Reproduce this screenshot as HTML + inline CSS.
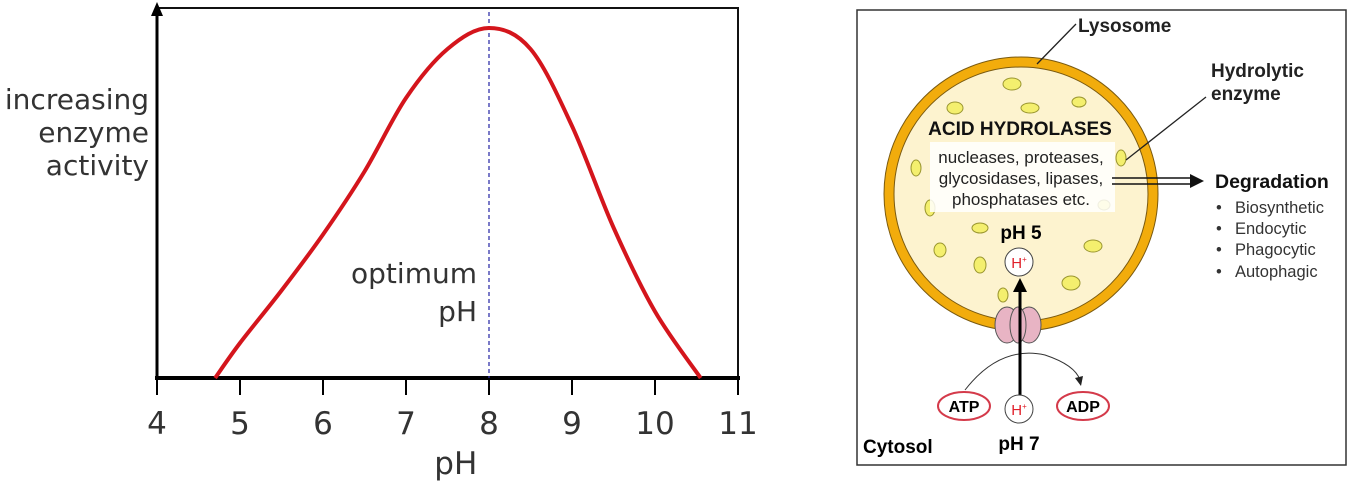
<!DOCTYPE html>
<html><head><meta charset="utf-8"><style>
html,body{margin:0;padding:0;background:#fff;}
svg{display:block;}
text{font-family:"Liberation Sans","DejaVu Sans",sans-serif;}
.dv{font-family:"DejaVu Sans","Liberation Sans",sans-serif;}
</style></head><body>
<svg width="1358" height="482" viewBox="0 0 1358 482" xmlns="http://www.w3.org/2000/svg">
<g id="chart"></g>
<g>
 <rect x="857" y="10" width="489" height="455" fill="#fff" stroke="#333" stroke-width="1.5"/>
 <circle cx="1021" cy="194" r="132" fill="#fdf3cf" stroke="#f2ac0c" stroke-width="10"/>
 <circle cx="1021" cy="194" r="137" fill="none" stroke="#7a5a10" stroke-width="1"/>
 <circle cx="1021" cy="194" r="127" fill="none" stroke="#7a5a10" stroke-width="1"/>
 <g fill="#f4ef6e" stroke="#9a9630" stroke-width="1">
  <ellipse cx="1012" cy="84" rx="9" ry="6"/><ellipse cx="955" cy="108" rx="8" ry="6"/><ellipse cx="1030" cy="108" rx="9" ry="5"/>
  <ellipse cx="1079" cy="102" rx="7" ry="5"/><ellipse cx="916" cy="168" rx="5" ry="8"/><ellipse cx="1121" cy="158" rx="5" ry="8"/>
  <ellipse cx="930" cy="208" rx="5" ry="8"/><ellipse cx="1104" cy="205" rx="6" ry="5"/><ellipse cx="980" cy="228" rx="8" ry="5"/>
  <ellipse cx="940" cy="250" rx="6" ry="7"/><ellipse cx="980" cy="265" rx="6" ry="8"/><ellipse cx="1093" cy="246" rx="9" ry="6"/>
  <ellipse cx="1071" cy="283" rx="9" ry="7"/><ellipse cx="1003" cy="295" rx="5" ry="7"/>
 </g>
 <rect x="930" y="142" width="185" height="70" fill="#fff" opacity="0.85"/>
 <text x="1020" y="135" text-anchor="middle" font-size="19" font-weight="bold" fill="#111">ACID HYDROLASES</text>
 <text x="1021" y="163" text-anchor="middle" font-size="17" fill="#222">nucleases, proteases,</text>
 <text x="1021" y="184" text-anchor="middle" font-size="17" fill="#222">glycosidases, lipases,</text>
 <text x="1021" y="205" text-anchor="middle" font-size="17" fill="#222">phosphatases etc.</text>
 <text x="1021" y="239" text-anchor="middle" font-size="19" font-weight="bold">pH 5</text>
 <path d="M1037,64 L1076,24" stroke="#222" stroke-width="1.3"/>
 <text x="1078" y="32" font-size="19" font-weight="bold" fill="#222">Lysosome</text>
 <path d="M1126,160 L1206,97" stroke="#222" stroke-width="1.3"/>
 <text x="1211" y="77" font-size="19" font-weight="bold" fill="#222">Hydrolytic</text>
 <text x="1211" y="100" font-size="19" font-weight="bold" fill="#222">enzyme</text>
 <path d="M1112,178 L1195,178 M1112,184 L1195,184" stroke="#111" stroke-width="1.5"/>
 <path d="M1190,174 L1204,181 L1190,188 Z" fill="#111"/>
 <text x="1215" y="188" font-size="19.5" font-weight="bold" fill="#111">Degradation</text>
 <g font-size="16.5" fill="#333">
  <text x="1216" y="213">•</text><text x="1235" y="213">Biosynthetic</text>
  <text x="1216" y="234">•</text><text x="1235" y="234">Endocytic</text>
  <text x="1216" y="255">•</text><text x="1235" y="255">Phagocytic</text>
  <text x="1216" y="277">•</text><text x="1235" y="277">Autophagic</text>
 </g>
 <g>
  <ellipse cx="1007" cy="325" rx="12" ry="18" fill="#e8b4c4" stroke="#555"/>
  <ellipse cx="1029" cy="325" rx="12" ry="18" fill="#e8b4c4" stroke="#555"/>
  <ellipse cx="1018" cy="325" rx="8" ry="18" fill="#e8b4c4" stroke="#555"/>
 </g>
 <path d="M965,390 Q1000,345 1045,355 Q1075,365 1080,380" fill="none" stroke="#333" stroke-width="1"/>
 <path d="M1075,378 L1081,386 L1083,376 Z" fill="#222"/>
 <path d="M1020,398 L1020,290" stroke="#000" stroke-width="3"/>
 <path d="M1013,292 L1020,278 L1027,292 Z" fill="#000"/>
 <circle cx="1019" cy="262" r="14" fill="#fff" stroke="#444"/>
 <text x="1019" y="268" text-anchor="middle" font-size="15" fill="#e0202a">H<tspan font-size="8" dy="-6">+</tspan></text>
 <circle cx="1019" cy="409" r="14" fill="#fff" stroke="#444"/>
 <text x="1019" y="415" text-anchor="middle" font-size="15" fill="#e0202a">H<tspan font-size="8" dy="-6">+</tspan></text>
 <ellipse cx="964" cy="406" rx="26" ry="14" fill="#fff" stroke="#d43a4a" stroke-width="2"/>
 <text x="964" y="412" text-anchor="middle" font-size="16" font-weight="bold">ATP</text>
 <ellipse cx="1083" cy="406" rx="26" ry="14" fill="#fff" stroke="#d43a4a" stroke-width="2"/>
 <text x="1083" y="412" text-anchor="middle" font-size="16" font-weight="bold">ADP</text>
 <text x="1019" y="450" text-anchor="middle" font-size="19" font-weight="bold">pH 7</text>
 <text x="863" y="453" font-size="19" font-weight="bold">Cytosol</text>
</g>
</svg>
<script>
const phValues=[4.7,5,5.5,6,6.5,7,7.5,8,8.5,9,9.5,10,10.55];
const activity=[0,10,25,41,59,80,94,100,94,72,43,19,0];
const xTicks=[4,5,6,7,8,9,10,11];
const optimumPH=8;
const NS='http://www.w3.org/2000/svg';
const g=document.getElementById('chart');
const X=v=>157+(v-4)*83;
const Y=v=>378-v*3.5;
function mk(t,a,p){const e=document.createElementNS(NS,t);for(const k in a)e.setAttribute(k,a[k]);(p||g).appendChild(e);return e;}
let frame=mk('path',{d:'M157,8 L738,8 L738,378',fill:'none',stroke:'#111','stroke-width':2});


let ya=mk('path',{d:'M157,378 L157,6',stroke:'#000','stroke-width':3});


let ar=mk('path',{d:'M151,16 L157,2 L163,16 Z',fill:'#000'});


let xa=mk('path',{d:'M155,378 L740,378',stroke:'#000','stroke-width':4});


xTicks.forEach(t=>{
 const l=mk('line',{x1:X(t),x2:X(t),y1:378,y2:395,stroke:'#000','stroke-width':2});
 
 
 const tx=mk('text',{x:X(t),y:434,'text-anchor':'middle','font-size':31,fill:'#333',class:'dv'});
 
 
 tx.textContent=t;
});
const xt=mk('text',{x:X(7.6),y:474,'text-anchor':'middle','font-size':31,fill:'#333',class:'dv'});


xt.textContent='pH';
['increasing','enzyme','activity'].forEach((s,i)=>{
 const t=mk('text',{x:149,y:109+i*33,'text-anchor':'end','font-size':28,fill:'#333',class:'dv'});
 
 
 t.textContent=s;
});
const vl=mk('line',{x1:X(optimumPH),x2:X(optimumPH),y1:12,y2:378,stroke:'#3333aa','stroke-width':1.3,'stroke-dasharray':'4,3'});


['optimum','pH'].forEach((s,i)=>{
 const t=mk('text',{x:X(optimumPH)-12,y:283+i*38,'text-anchor':'end','font-size':28,fill:'#333',class:'dv'});
 
 
 t.textContent=s;
});
const pts=phValues.map((p,i)=>[X(p),Y(activity[i])]);
let d='M'+pts[0].join(',');
for(let i=0;i<pts.length-1;i++){
 const p0=pts[Math.max(0,i-1)],p1=pts[i],p2=pts[i+1],p3=pts[Math.min(pts.length-1,i+2)];
 const c1=[p1[0]+(p2[0]-p0[0])/6,p1[1]+(p2[1]-p0[1])/6];
 const c2=[p2[0]-(p3[0]-p1[0])/6,p2[1]-(p3[1]-p1[1])/6];
 d+=' C'+c1.join(',')+' '+c2.join(',')+' '+p2.join(',');
}
const c=mk('path',{d:d,fill:'none',stroke:'#d4151c','stroke-width':4,'stroke-linejoin':'round'});


</script>
</body></html>
